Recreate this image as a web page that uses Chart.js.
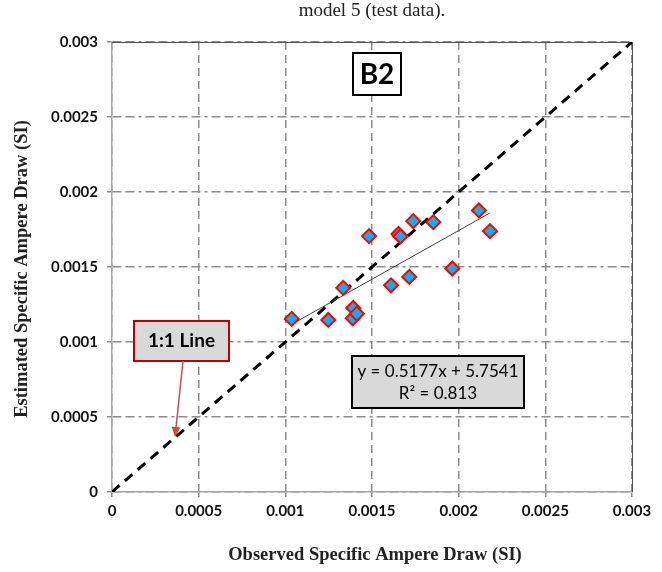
<!DOCTYPE html>
<html>
<head>
<meta charset="utf-8">
<script src="https://cdn.jsdelivr.net/npm/chart.js@4.4.1/dist/chart.umd.min.js"></script>
<style>
  body { margin: 0; background: #fff; }
  canvas { display: block; }
</style>
</head>
<body>
<canvas id="chart" width="662" height="572"></canvas>
<script>
// values
const observed = [0.001037, 0.001248, 0.001334, 0.001392, 0.001389, 0.001413, 0.001483, 0.001610,
  0.001653, 0.001664, 0.001715, 0.001738, 0.001854, 0.001963, 0.002117, 0.002181];
const estimated = [0.001154, 0.001147, 0.001361, 0.001227, 0.001158, 0.001189, 0.001706, 0.001378,
  0.001720, 0.001704, 0.001434, 0.001806, 0.001799, 0.001490, 0.001877, 0.001739];
const trendX = [0.00104, 0.00218];
const trendY = [0.00112, 0.00186];
const unityX = [0, 0.003];
const unityY = [0, 0.003];
const xTickLabels = ["0", "0.0005", "0.001", "0.0015", "0.002", "0.0025", "0.003"];
const yTickLabels = ["0", "0.0005", "0.001", "0.0015", "0.002", "0.0025", "0.003"];

const sansFont = "Lato, 'Liberation Sans', sans-serif";
const serifFont = "'Liberation Serif', serif";

function toPoints(xs, ys) {
  return xs.map((x, i) => ({ x: x, y: ys[i] }));
}

function drawBox(ctx, x, y, w, h, fill, stroke, lineWidth) {
  ctx.save();
  ctx.fillStyle = fill;
  ctx.fillRect(x, y, w, h);
  ctx.strokeStyle = stroke;
  ctx.lineWidth = lineWidth;
  ctx.strokeRect(x, y, w, h);
  ctx.restore();
}

function drawText(ctx, text, x, y, font, color) {
  ctx.save();
  ctx.font = font;
  ctx.fillStyle = color;
  ctx.textAlign = "center";
  ctx.textBaseline = "middle";
  ctx.fillText(text, x, y);
  ctx.restore();
}

const framePlugin = {
  id: "frame",
  beforeDatasetsDraw(chart) {
    const { ctx, chartArea } = chart;
    ctx.save();
    ctx.strokeStyle = "#505050";
    ctx.lineWidth = 1;
    ctx.beginPath();
    ctx.moveTo(chartArea.left, chartArea.top + 0.5);
    ctx.lineTo(chartArea.right + 0.5, chartArea.top + 0.5);
    ctx.lineTo(chartArea.right + 0.5, chartArea.bottom);
    ctx.stroke();
    ctx.restore();
  }
};

const notesPlugin = {
  id: "notes",
  afterDraw(chart) {
    const ctx = chart.ctx;

    // caption and axis titles
    drawText(ctx, "model 5 (test data).", 372, 11, "19px " + serifFont, "#222");
    drawText(ctx, "Observed Specific Ampere Draw (SI)", 375, 555, "bold 18.5px " + serifFont, "#222");
    ctx.save();
    ctx.translate(22, 269);
    ctx.rotate(-Math.PI / 2);
    drawText(ctx, "Estimated Specific Ampere Draw (SI)", 0, 0, "bold 18.5px " + serifFont, "#222");
    ctx.restore();

    // panel label
    drawBox(ctx, 353, 53, 48, 42, "#fff", "#000", 2);
    drawText(ctx, "B2", 377, 75, "bold 28px " + sansFont, "#000");

    // 1:1 line label and arrow
    drawBox(ctx, 134, 321, 95, 40, "#d9d9d9", "#c00000", 2);
    drawText(ctx, "1:1 Line", 181.5, 341, "bold 19px " + sansFont, "#000");
    const x0 = 183, y0 = 361, x1 = 175, y1 = 437;
    const ang = Math.atan2(y1 - y0, x1 - x0);
    ctx.save();
    ctx.strokeStyle = "#c0504d";
    ctx.fillStyle = "#c0504d";
    ctx.lineWidth = 1.5;
    ctx.beginPath();
    ctx.moveTo(x0, y0);
    ctx.lineTo(x1 - 8 * Math.cos(ang), y1 - 8 * Math.sin(ang));
    ctx.stroke();
    ctx.beginPath();
    ctx.moveTo(x1, y1);
    ctx.lineTo(x1 - 10 * Math.cos(ang) + 4.5 * Math.sin(ang), y1 - 10 * Math.sin(ang) - 4.5 * Math.cos(ang));
    ctx.lineTo(x1 - 10 * Math.cos(ang) - 4.5 * Math.sin(ang), y1 - 10 * Math.sin(ang) + 4.5 * Math.cos(ang));
    ctx.closePath();
    ctx.fill();
    ctx.restore();

    // regression equation
    drawBox(ctx, 352, 356, 172, 52, "#d9d9d9", "#000", 2);
    drawText(ctx, "y = 0.5177x + 5.7541", 438, 372, "17px " + sansFont, "#000");
    drawText(ctx, "R² = 0.813", 438, 394, "17px " + sansFont, "#000");
  }
};

new Chart(document.getElementById("chart"), {
  type: "scatter",
  data: {
    datasets: [
      {
        label: "Test data",
        data: toPoints(observed, estimated),
        pointStyle: "rectRot",
        pointRadius: 7,
        pointHoverRadius: 7,
        backgroundColor: "#0fb0ea",
        borderColor: "#ff0000",
        borderWidth: 2,
        order: 0
      },
      {
        label: "Trend",
        data: toPoints(trendX, trendY),
        showLine: true,
        borderColor: "#404040",
        borderWidth: 1,
        pointRadius: 0,
        order: 1
      },
      {
        label: "1:1",
        data: toPoints(unityX, unityY),
        showLine: true,
        borderColor: "#000",
        borderWidth: 3,
        borderDash: [10, 7],
        pointRadius: 0,
        order: 2
      }
    ]
  },
  options: {
    responsive: false,
    animation: false,
    layout: { padding: { left: 0, top: 42, right: 30, bottom: 0 } },
    plugins: {
      legend: { display: false },
      tooltip: { enabled: false }
    },
    scales: {
      x: {
        type: "linear",
        min: 0,
        max: 0.003,
        afterFit: (scale) => { scale.height = 80; },
        ticks: {
          stepSize: 0.0005,
          padding: 5,
          color: "#111",
          font: { family: sansFont, size: 15, weight: "bold" },
          callback: (value, index) => xTickLabels[index]
        },
        grid: { color: "#8c8c8c", lineWidth: 1.5, tickLength: 5, tickColor: "#8c8c8c" },
        border: { color: "#a6a6a6", width: 1.5, dash: [8, 5] }
      },
      y: {
        type: "linear",
        min: 0,
        max: 0.003,
        afterFit: (scale) => { scale.width = 112; },
        ticks: {
          stepSize: 0.0005,
          padding: 9,
          color: "#111",
          font: { family: sansFont, size: 15, weight: "bold" },
          callback: (value, index) => yTickLabels[index]
        },
        grid: { color: "#8c8c8c", lineWidth: 1.5, tickLength: 5, tickColor: "#8c8c8c" },
        border: { color: "#a6a6a6", width: 1.5, dash: [9, 4, 9, 4, 3, 4] }
      }
    }
  },
  plugins: [framePlugin, notesPlugin]
});
</script>
</body>
</html>
